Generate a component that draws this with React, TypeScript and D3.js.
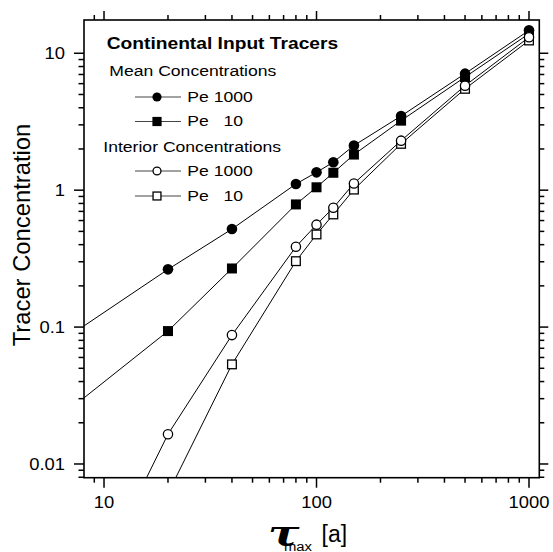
import React from "react";
import * as d3 from "d3";

// ---- data ----
const tau = [5, 10, 20, 40, 80, 100, 120, 150, 250, 500, 1000];
const meanPe1000 = [0.062, null, 0.264, 0.52, 1.11, 1.35, 1.6, 2.12, 3.48, 7.1, 14.7];
const meanPe10 = [0.0169, null, 0.0935, 0.268, 0.787, 1.05, 1.34, 1.82, 3.22, 6.7, 13.9];
const interiorPe1000 = [null, 0.00186, 0.0165, 0.0874, 0.386, 0.56, 0.744, 1.12, 2.3, 5.8, 13.1];
const interiorPe10 = [null, null, 0.0061, 0.0534, 0.303, 0.475, 0.665, 1.01, 2.18, 5.5, 12.4];

const xMajorTicks = [10, 100, 1000];
const xTickLabels = ["10", "100", "1000"];
const yMajorTicks = [0.01, 0.1, 1, 10];
const yTickLabels = ["0.01", "0.1", "1", "10"];

const legendTitle = "Continental Input Tracers";
const legendGroup1 = "Mean Concentrations";
const legendGroup2 = "Interior Concentrations";
const legendLabels = ["Pe 1000", "Pe   10", "Pe 1000", "Pe   10"];

const W = 553;
const H = 552;
const L = 84, R = 539.3, T = 20, B = 477.7;

const FONT = "'Liberation Sans', Arial, Helvetica, sans-serif";

function Txt({ x, y, size, sx = 1.15, anchor = "start", weight = "normal", children }: any) {
  return (
    <text
      transform={`translate(${x},${y}) scale(${sx},1)`}
      fontSize={size}
      textAnchor={anchor}
      fontWeight={weight}
      fontFamily={FONT}
      fill="#000"
      style={{ whiteSpace: "pre" }}
    >
      {children}
    </text>
  );
}

function Marker({ kind, cx, cy, size }: any) {
  const r = size / 2;
  if (kind === "fc") return <circle cx={cx} cy={cy} r={r} fill="#000" />;
  if (kind === "fs") return <rect x={cx - r} y={cy - r} width={size} height={size} fill="#000" />;
  if (kind === "oc") return <circle cx={cx} cy={cy} r={r - 0.65} fill="#fff" stroke="#000" strokeWidth={1.3} />;
  return <rect x={cx - r + 0.65} y={cy - r + 0.65} width={size - 1.3} height={size - 1.3} fill="#fff" stroke="#000" strokeWidth={1.3} />;
}

export default function App() {
  const x = d3.scaleLog().domain([8.05, 1118]).range([L, R]);
  const y = d3.scaleLog().domain([0.00794, 17.5]).range([B, T]);

  const xTicks = x.ticks().filter((v) => !xMajorTicks.includes(v));
  const yTicks = y.ticks().filter((v) => !yMajorTicks.some((m) => Math.abs(m - v) < 1e-9));

  const series = [
    { values: meanPe1000, kind: "fc", size: 10.6 },
    { values: meanPe10, kind: "fs", size: 10 },
    { values: interiorPe10, kind: "os", size: 10 },
    { values: interiorPe1000, kind: "oc", size: 10.6 },
  ];

  const line = d3
    .line<[number, number]>()
    .x((d) => x(d[0]))
    .y((d) => y(d[1]));

  const pts = (vals: (number | null)[]) =>
    tau.map((t, i) => [t, vals[i]] as [number, number | null]).filter((d) => d[1] != null) as [number, number][];

  const legendRows = [97, 121.5, 171, 196];
  const legendKinds = ["fc", "fs", "oc", "os"];

  return (
    <svg width={W} height={H} style={{ position: "absolute", left: 0, top: 0, background: "#fff" }}>
      <defs>
        <clipPath id="plotclip">
          <rect x={L} y={T} width={R - L} height={B - T} />
        </clipPath>
      </defs>
      <rect x={0} y={0} width={W} height={H} fill="#fff" />

      {/* data */}
      <g clipPath="url(#plotclip)">
        {series.map((s, i) => (
          <path key={"l" + i} d={line(pts(s.values)) || ""} fill="none" stroke="#000" strokeWidth={1} />
        ))}
        {series.map((s, i) =>
          pts(s.values).map((d, j) => (
            <Marker key={"m" + i + "-" + j} kind={s.kind} cx={x(d[0])} cy={y(d[1])} size={s.size} />
          ))
        )}
      </g>

      {/* frame */}
      <rect x={L} y={T} width={R - L} height={B - T} fill="none" stroke="#000" strokeWidth={1.6} />

      {/* x ticks bottom & top */}
      {xMajorTicks.map((v) => (
        <g key={"xM" + v}>
          <line x1={x(v)} x2={x(v)} y1={B} y2={B + 10} stroke="#000" strokeWidth={1.5} />
          <line x1={x(v)} x2={x(v)} y1={T} y2={T - 9} stroke="#000" strokeWidth={1.5} />
        </g>
      ))}
      {xTicks.map((v) => (
        <g key={"xm" + v}>
          <line x1={x(v)} x2={x(v)} y1={B} y2={B + 5} stroke="#000" strokeWidth={1.5} />
          <line x1={x(v)} x2={x(v)} y1={T} y2={T - 5} stroke="#000" strokeWidth={1.5} />
        </g>
      ))}
      {/* y ticks left & right */}
      {yMajorTicks.map((v) => (
        <g key={"yM" + v}>
          <line x1={L} x2={L - 10} y1={y(v)} y2={y(v)} stroke="#000" strokeWidth={1.5} />
          <line x1={R} x2={R + 9} y1={y(v)} y2={y(v)} stroke="#000" strokeWidth={1.5} />
        </g>
      ))}
      {yTicks.map((v) => (
        <g key={"ym" + v}>
          <line x1={L} x2={L - 5.5} y1={y(v)} y2={y(v)} stroke="#000" strokeWidth={1.5} />
          <line x1={R} x2={R + 5} y1={y(v)} y2={y(v)} stroke="#000" strokeWidth={1.5} />
        </g>
      ))}

      {/* tick labels */}
      {xMajorTicks.map((v, i) => (
        <Txt key={"xl" + v} x={x(v)} y={508} size={16} anchor="middle">
          {xTickLabels[i]}
        </Txt>
      ))}
      {yMajorTicks.map((v, i) => (
        <Txt key={"yl" + v} x={65} y={y(v) + 6} size={16} anchor="end">
          {yTickLabels[i]}
        </Txt>
      ))}

      {/* axis titles */}
      <text
        transform={`translate(30,235) rotate(-90)`}
        fontSize={23.8}
        textAnchor="middle"
        fontFamily={FONT}
        fill="#000"
      >
        Tracer Concentration
      </text>
      <g>
        <text
          transform="translate(268,545) scale(1.3,1)"
          fontSize={36}
          fontStyle="italic"
          fontWeight="bold"
          fontFamily="'DejaVu Serif', 'Liberation Serif', serif"
          fill="#000"
        >
          τ
        </text>
        <Txt x={284} y={550.5} size={13.5} sx={1.1}>max</Txt>
        <Txt x={321.5} y={542} size={23} sx={1.0}>[a]</Txt>
      </g>

      {/* legend */}
      <Txt x={106.7} y={49.3} size={17} sx={1.13} weight="bold">
        {legendTitle}
      </Txt>
      <Txt x={109.3} y={75.7} size={15.3}>
        {legendGroup1}
      </Txt>
      <Txt x={103.3} y={151.5} size={15.3}>
        {legendGroup2}
      </Txt>
      {legendRows.map((ry, i) => (
        <g key={"lg" + i}>
          <line x1={135} x2={181} y1={ry} y2={ry} stroke="#444" strokeWidth={1} />
          <Marker kind={legendKinds[i]} cx={157} cy={ry} size={9.2} />
          <Txt x={187.3} y={ry + 4.8} size={15.3}>
            {legendLabels[i]}
          </Txt>
        </g>
      ))}
    </svg>
  );
}
